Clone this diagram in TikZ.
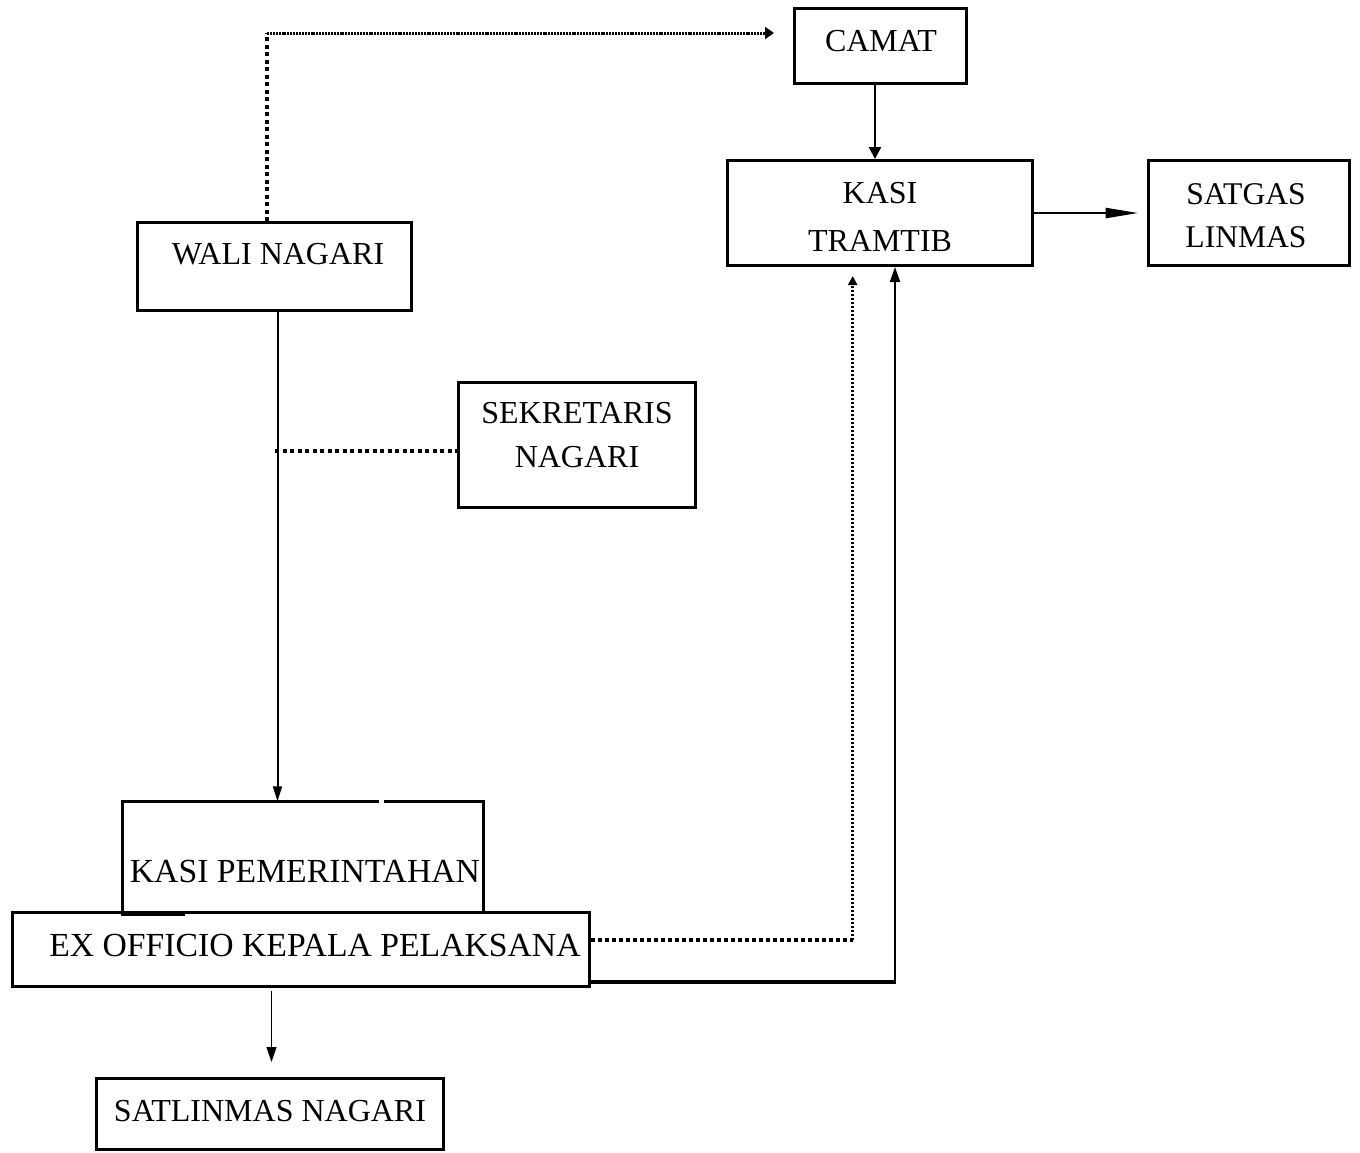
\documentclass[tikz,border=0pt]{standalone}
\usepackage{fontspec}
\setmainfont{Liberation Serif}
\usetikzlibrary{arrows.meta,calc}
\begin{document}
\begin{tikzpicture}[x=1pt,y=-1pt,
  box/.style={draw,line width=3pt,inner sep=0pt},
  txt/.style={inner sep=0pt,align=center,font=\fontsize{32}{44}\selectfont},
  bigtxt/.style={inner sep=0pt,font=\fontsize{33.7}{40}\selectfont},
  dotthick/.style={line width=4pt,dash pattern=on 4pt off 3.5pt},
  dotfine/.style={line width=3pt,dash pattern=on 2pt off 0.9pt},
  dotthin/.style={line width=2.5pt,dash pattern=on 2pt off 2pt},
  link/.style={line width=2pt}]
\useasboundingbox (0,0) rectangle (1360,1152);

% boxes
\node[box,minimum width=172pt,minimum height=75pt]  (camat)   at (880.5,46) {};
\node[box,minimum width=305pt,minimum height=105pt] (tramtib) at (880,213) {};
\node[box,minimum width=201pt,minimum height=105pt] (satgas)  at (1249,213) {};
\node[box,minimum width=274pt,minimum height=88pt]  (wali)    at (274.5,266.5) {};
\node[box,minimum width=237pt,minimum height=125pt] (sekr)    at (577,445) {};
\node[inner sep=0pt,minimum width=361pt,minimum height=110.5pt] (kpem) at (303,856.75) {};
\node[box,minimum width=577pt,minimum height=74pt]  (exoff)   at (301,949.5) {};
\node[box,minimum width=347pt,minimum height=71pt]  (satlin)  at (270,1114) {};

% outline of the KASI PEMERINTAHAN box (small break in the top edge, thick foot)
\coordinate (gapL) at (378.5,801.5);
\coordinate (gapR) at (383.5,801.5);
\draw[line width=3pt] (kpem.south west) -- (kpem.north west) -- (kpem.north west -| gapL);
\draw[line width=3pt] (kpem.north east -| gapR) -- (kpem.north east) -- (kpem.south east);
\draw[line width=4.5pt] ($(kpem.south west)+(-1.5,1.5)$) -- ++(64,0);
\node[box,minimum width=577pt,minimum height=74pt] (exoff2) at (exoff) {};

% labels
\node[txt] (t-camat) at (881,41) {CAMAT};
\node[txt,font=\fontsize{32}{48}\selectfont] (t-tramtib) at (880,217) {KASI\\TRAMTIB};
\node[txt,font=\fontsize{31.6}{43}\selectfont] (t-satgas) at (1246,215.5) {SATGAS\\LINMAS};
\node[txt] (t-wali) at (278,254) {WALI NAGARI};
\node[txt,font=\fontsize{32}{44}\selectfont] (t-sekr) at (577,435) {SEKRETARIS\\NAGARI};
\node[bigtxt] (t-kpem) at (305,871) {KASI PEMERINTAHAN};
\node[bigtxt] (t-exoff) at (315,945) {EX OFFICIO KEPALA PELAKSANA};
\node[txt] (t-satlin) at (270,1111) {SATLINMAS NAGARI};

% guide coordinates
\coordinate (bendW) at (267,33);
\coordinate (xCam) at (875,0);
\coordinate (xWali) at (277.5,0);
\coordinate (sekJ) at (275,451);
\coordinate (dotR) at (852.7,940);
\coordinate (solR) at (895,982);
\coordinate (xEx) at (271.5,0);

% WALI NAGARI -> CAMAT (dotted)
\draw[dotthick] (wali.north -| bendW) -- (bendW);
\draw[dotfine,-{Triangle[length=9pt,width=12pt]},shorten >=19pt] (bendW) -- (camat.west |- bendW);

% CAMAT -> KASI TRAMTIB
\draw[line width=2.5pt,-{Triangle[length=12pt,width=12pt]}] (camat.south -| xCam) -- (tramtib.north -| xCam);

% KASI TRAMTIB -> SATGAS LINMAS
\draw[line width=2.5pt,-{Triangle[length=33pt,width=10pt]},shorten >=8.5pt] (tramtib.east) -- (satgas.west);

% WALI NAGARI -> KASI PEMERINTAHAN
\draw[link,-{Triangle[length=15pt,width=9pt]}] (wali.south -| xWali) -- (kpem.north -| xWali);

% SEKRETARIS NAGARI (dotted)
\draw[line width=3.5pt,dash pattern=on 4pt off 3.5pt] (sekJ) -- (sekr.west |- sekJ);

% EX OFFICIO -> KASI TRAMTIB (dotted)
\draw[dotthick,dash pattern=on 3.7pt off 3.3pt] (exoff.east |- dotR) -- (dotR);
\draw[dotthin,-{Triangle[length=9pt,width=9pt]},shorten >=9pt] (dotR) -- (tramtib.south -| dotR);

% EX OFFICIO -> KASI TRAMTIB (solid)
\draw[line width=3.5pt] (exoff.east |- solR) -- (solR);
\draw[link,-{Triangle[length=15pt,width=10pt]}] ($(solR)+(0,1.75)$) -- (tramtib.south -| solR);

% EX OFFICIO -> SATLINMAS NAGARI
\draw[line width=1.5pt,-{Triangle[length=15pt,width=10pt]},shorten <=3pt,shorten >=15pt] (exoff.south -| xEx) -- (satlin.north -| xEx);
\end{tikzpicture}
\end{document}
